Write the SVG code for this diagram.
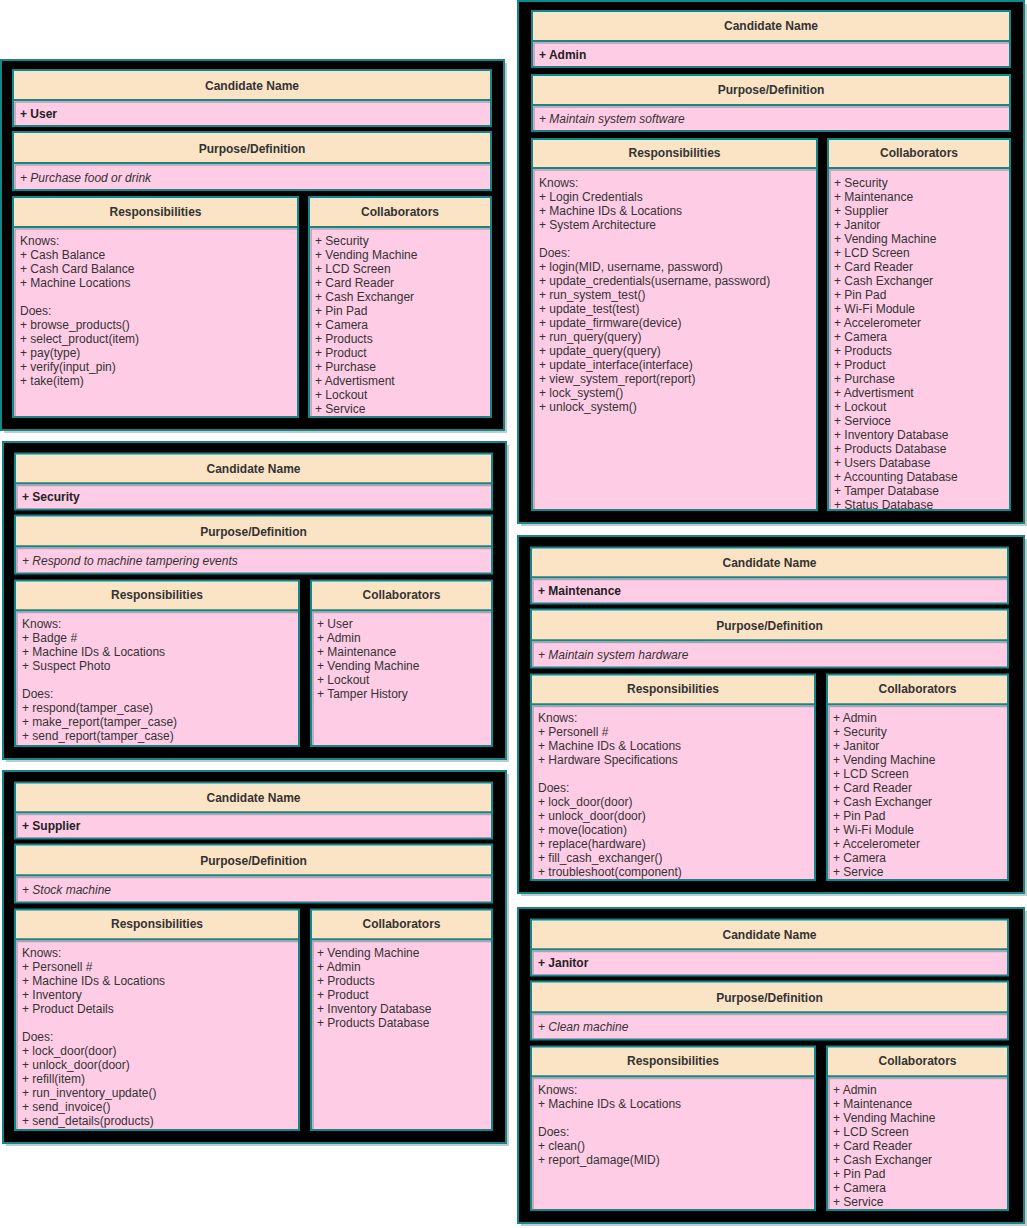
<svg xmlns="http://www.w3.org/2000/svg" width="1027" height="1228" viewBox="0 0 1027 1228">
<style>
.sh{fill:#c8c8c8}
.outer{fill:#000;stroke:#12878a;stroke-width:2}
.hd{fill:#fbe4c6;stroke:#12878a;stroke-width:2}
.bd{fill:#ffcce6;stroke:#12878a;stroke-width:2}
.ml{fill:none;stroke:#bf9bb0;stroke-width:1.5}
text{font-family:"Liberation Sans",Arial,sans-serif;font-size:12px;fill:#333333}
.h{font-weight:bold;text-anchor:middle}
.nm{font-weight:bold;fill:#222222}
.it{font-style:italic}
</style>
<g id="connectors"/>

<g id="card-user" transform="translate(13,60)">
<rect class="sh" x="-9" y="3" width="503" height="370"/>
<rect class="outer" x="-12" y="0" width="503" height="370"/>
<rect class="hd" x="0" y="10" width="478" height="30"/>
<rect class="bd" x="0" y="40" width="478" height="26"/><path class="ml" d="M2,65V42H477"/>
<rect class="hd" x="0" y="72" width="478" height="31"/>
<rect class="bd" x="0" y="103" width="478" height="27"/><path class="ml" d="M2,129V105H477"/>
<rect class="hd" x="0" y="137" width="285" height="30"/>
<rect class="bd" x="0" y="167" width="285" height="190"/><path class="ml" d="M2,356V169H284"/>
<rect class="hd" x="296" y="137" width="182" height="30"/>
<rect class="bd" x="296" y="167" width="182" height="190"/><path class="ml" d="M298,356V169H477"/>
<text class="h" x="239" y="30">Candidate Name</text>
<text class="nm" x="7" y="58">+ User</text>
<text class="h" x="239" y="93">Purpose/Definition</text>
<text class="it" x="7" y="122">+ Purchase food or drink</text>
<text class="h" x="142.5" y="156">Responsibilities</text>
<text class="h" x="387" y="156">Collaborators</text>
<text x="7" y="185">Knows:<tspan x="7" dy="14">+ Cash Balance</tspan><tspan x="7" dy="14">+ Cash Card Balance</tspan><tspan x="7" dy="14">+ Machine Locations</tspan><tspan x="7" dy="28">Does:</tspan><tspan x="7" dy="14">+ browse_products()</tspan><tspan x="7" dy="14">+ select_product(item)</tspan><tspan x="7" dy="14">+ pay(type)</tspan><tspan x="7" dy="14">+ verify(input_pin)</tspan><tspan x="7" dy="14">+ take(item)</tspan></text>
<text x="302" y="185">+ Security<tspan x="302" dy="14">+ Vending Machine</tspan><tspan x="302" dy="14">+ LCD Screen</tspan><tspan x="302" dy="14">+ Card Reader</tspan><tspan x="302" dy="14">+ Cash Exchanger</tspan><tspan x="302" dy="14">+ Pin Pad</tspan><tspan x="302" dy="14">+ Camera</tspan><tspan x="302" dy="14">+ Products</tspan><tspan x="302" dy="14">+ Product</tspan><tspan x="302" dy="14">+ Purchase</tspan><tspan x="302" dy="14">+ Advertisment</tspan><tspan x="302" dy="14">+ Lockout</tspan><tspan x="302" dy="14">+ Service</tspan></text>
</g>

<g id="card-security" transform="translate(15,443.5)">
<rect class="sh" x="-9" y="1.5" width="503" height="317"/>
<rect class="outer" x="-12" y="-1.5" width="503" height="317"/>
<rect class="hd" x="0" y="10" width="477" height="30"/>
<rect class="bd" x="0" y="40" width="477" height="26"/><path class="ml" d="M2,65V42H476"/>
<rect class="hd" x="0" y="72" width="477" height="31"/>
<rect class="bd" x="0" y="103" width="477" height="27"/><path class="ml" d="M2,129V105H476"/>
<rect class="hd" x="0" y="137" width="284" height="30"/>
<rect class="bd" x="0" y="167" width="284" height="135.5"/><path class="ml" d="M2,301.5V169H283"/>
<rect class="hd" x="296" y="137" width="181" height="30"/>
<rect class="bd" x="296" y="167" width="181" height="135.5"/><path class="ml" d="M298,301.5V169H476"/>
<text class="h" x="238.5" y="29">Candidate Name</text>
<text class="nm" x="7" y="57">+ Security</text>
<text class="h" x="238.5" y="92">Purpose/Definition</text>
<text class="it" x="7" y="121">+ Respond to machine tampering events</text>
<text class="h" x="142" y="155">Responsibilities</text>
<text class="h" x="386.5" y="155">Collaborators</text>
<text x="7" y="184">Knows:<tspan x="7" dy="14">+ Badge #</tspan><tspan x="7" dy="14">+ Machine IDs &amp; Locations</tspan><tspan x="7" dy="14">+ Suspect Photo</tspan><tspan x="7" dy="28">Does:</tspan><tspan x="7" dy="14">+ respond(tamper_case)</tspan><tspan x="7" dy="14">+ make_report(tamper_case)</tspan><tspan x="7" dy="14">+ send_report(tamper_case)</tspan></text>
<text x="302" y="184">+ User<tspan x="302" dy="14">+ Admin</tspan><tspan x="302" dy="14">+ Maintenance</tspan><tspan x="302" dy="14">+ Vending Machine</tspan><tspan x="302" dy="14">+ Lockout</tspan><tspan x="302" dy="14">+ Tamper History</tspan></text>
</g>

<g id="card-supplier" transform="translate(15,772.5)">
<rect class="sh" x="-9" y="1.5" width="503" height="372"/>
<rect class="outer" x="-12" y="-1.5" width="503" height="372"/>
<rect class="hd" x="0" y="10" width="477" height="30"/>
<rect class="bd" x="0" y="40" width="477" height="26"/><path class="ml" d="M2,65V42H476"/>
<rect class="hd" x="0" y="72" width="477" height="31"/>
<rect class="bd" x="0" y="103" width="477" height="27"/><path class="ml" d="M2,129V105H476"/>
<rect class="hd" x="0" y="137" width="284" height="30"/>
<rect class="bd" x="0" y="167" width="284" height="190.5"/><path class="ml" d="M2,356.5V169H283"/>
<rect class="hd" x="296" y="137" width="181" height="30"/>
<rect class="bd" x="296" y="167" width="181" height="190.5"/><path class="ml" d="M298,356.5V169H476"/>
<text class="h" x="238.5" y="29">Candidate Name</text>
<text class="nm" x="7" y="57">+ Supplier</text>
<text class="h" x="238.5" y="92">Purpose/Definition</text>
<text class="it" x="7" y="121">+ Stock machine</text>
<text class="h" x="142" y="155">Responsibilities</text>
<text class="h" x="386.5" y="155">Collaborators</text>
<text x="7" y="184">Knows:<tspan x="7" dy="14">+ Personell #</tspan><tspan x="7" dy="14">+ Machine IDs &amp; Locations</tspan><tspan x="7" dy="14">+ Inventory</tspan><tspan x="7" dy="14">+ Product Details</tspan><tspan x="7" dy="28">Does:</tspan><tspan x="7" dy="14">+ lock_door(door)</tspan><tspan x="7" dy="14">+ unlock_door(door)</tspan><tspan x="7" dy="14">+ refill(item)</tspan><tspan x="7" dy="14">+ run_inventory_update()</tspan><tspan x="7" dy="14">+ send_invoice()</tspan><tspan x="7" dy="14">+ send_details(products)</tspan></text>
<text x="302" y="184">+ Vending Machine<tspan x="302" dy="14">+ Admin</tspan><tspan x="302" dy="14">+ Products</tspan><tspan x="302" dy="14">+ Product</tspan><tspan x="302" dy="14">+ Inventory Database</tspan><tspan x="302" dy="14">+ Products Database</tspan></text>
</g>

<g id="card-admin" transform="translate(532,1)">
<rect class="sh" x="-11" y="3" width="506" height="522"/>
<rect class="outer" x="-14" y="0" width="506" height="522"/>
<rect class="hd" x="0" y="10" width="478" height="30"/>
<rect class="bd" x="0" y="40" width="478" height="26"/><path class="ml" d="M2,65V42H477"/>
<rect class="hd" x="0" y="74" width="478" height="30"/>
<rect class="bd" x="0" y="104" width="478" height="26"/><path class="ml" d="M2,129V106H477"/>
<rect class="hd" x="0" y="138" width="285" height="29"/>
<rect class="bd" x="0" y="167" width="285" height="342"/><path class="ml" d="M2,508V169H284"/>
<rect class="hd" x="296" y="138" width="182" height="29"/>
<rect class="bd" x="296" y="167" width="182" height="342"/><path class="ml" d="M298,508V169H477"/>
<text class="h" x="239" y="29">Candidate Name</text>
<text class="nm" x="7" y="58">+ Admin</text>
<text class="h" x="239" y="93">Purpose/Definition</text>
<text class="it" x="7" y="122">+ Maintain system software</text>
<text class="h" x="142.5" y="156">Responsibilities</text>
<text class="h" x="387" y="156">Collaborators</text>
<text x="7" y="186">Knows:<tspan x="7" dy="14">+ Login Credentials</tspan><tspan x="7" dy="14">+ Machine IDs &amp; Locations</tspan><tspan x="7" dy="14">+ System Architecture</tspan><tspan x="7" dy="28">Does:</tspan><tspan x="7" dy="14">+ login(MID, username, password)</tspan><tspan x="7" dy="14">+ update_credentials(username, password)</tspan><tspan x="7" dy="14">+ run_system_test()</tspan><tspan x="7" dy="14">+ update_test(test)</tspan><tspan x="7" dy="14">+ update_firmware(device)</tspan><tspan x="7" dy="14">+ run_query(query)</tspan><tspan x="7" dy="14">+ update_query(query)</tspan><tspan x="7" dy="14">+ update_interface(interface)</tspan><tspan x="7" dy="14">+ view_system_report(report)</tspan><tspan x="7" dy="14">+ lock_system()</tspan><tspan x="7" dy="14">+ unlock_system()</tspan></text>
<text x="302" y="186">+ Security<tspan x="302" dy="14">+ Maintenance</tspan><tspan x="302" dy="14">+ Supplier</tspan><tspan x="302" dy="14">+ Janitor</tspan><tspan x="302" dy="14">+ Vending Machine</tspan><tspan x="302" dy="14">+ LCD Screen</tspan><tspan x="302" dy="14">+ Card Reader</tspan><tspan x="302" dy="14">+ Cash Exchanger</tspan><tspan x="302" dy="14">+ Pin Pad</tspan><tspan x="302" dy="14">+ Wi-Fi Module</tspan><tspan x="302" dy="14">+ Accelerometer</tspan><tspan x="302" dy="14">+ Camera</tspan><tspan x="302" dy="14">+ Products</tspan><tspan x="302" dy="14">+ Product</tspan><tspan x="302" dy="14">+ Purchase</tspan><tspan x="302" dy="14">+ Advertisment</tspan><tspan x="302" dy="14">+ Lockout</tspan><tspan x="302" dy="14">+ Servioce</tspan><tspan x="302" dy="14">+ Inventory Database</tspan><tspan x="302" dy="14">+ Products Database</tspan><tspan x="302" dy="14">+ Users Database</tspan><tspan x="302" dy="14">+ Accounting Database</tspan><tspan x="302" dy="14">+ Tamper Database</tspan><tspan x="302" dy="14">+ Status Database</tspan></text>
</g>

<g id="card-maintenance" transform="translate(531,537.5)">
<rect class="sh" x="-10" y="1.5" width="506" height="357"/>
<rect class="outer" x="-13" y="-1.5" width="506" height="357"/>
<rect class="hd" x="0" y="10" width="477" height="30"/>
<rect class="bd" x="0" y="40" width="477" height="26"/><path class="ml" d="M2,65V42H476"/>
<rect class="hd" x="0" y="72" width="477" height="31"/>
<rect class="bd" x="0" y="103" width="477" height="27"/><path class="ml" d="M2,129V105H476"/>
<rect class="hd" x="0" y="137" width="284" height="30"/>
<rect class="bd" x="0" y="167" width="284" height="175.5"/><path class="ml" d="M2,341.5V169H283"/>
<rect class="hd" x="296" y="137" width="181" height="30"/>
<rect class="bd" x="296" y="167" width="181" height="175.5"/><path class="ml" d="M298,341.5V169H476"/>
<text class="h" x="238.5" y="29">Candidate Name</text>
<text class="nm" x="7" y="57">+ Maintenance</text>
<text class="h" x="238.5" y="92">Purpose/Definition</text>
<text class="it" x="7" y="121">+ Maintain system hardware</text>
<text class="h" x="142" y="155">Responsibilities</text>
<text class="h" x="386.5" y="155">Collaborators</text>
<text x="7" y="184">Knows:<tspan x="7" dy="14">+ Personell #</tspan><tspan x="7" dy="14">+ Machine IDs &amp; Locations</tspan><tspan x="7" dy="14">+ Hardware Specifications</tspan><tspan x="7" dy="28">Does:</tspan><tspan x="7" dy="14">+ lock_door(door)</tspan><tspan x="7" dy="14">+ unlock_door(door)</tspan><tspan x="7" dy="14">+ move(location)</tspan><tspan x="7" dy="14">+ replace(hardware)</tspan><tspan x="7" dy="14">+ fill_cash_exchanger()</tspan><tspan x="7" dy="14">+ troubleshoot(component)</tspan></text>
<text x="302" y="184">+ Admin<tspan x="302" dy="14">+ Security</tspan><tspan x="302" dy="14">+ Janitor</tspan><tspan x="302" dy="14">+ Vending Machine</tspan><tspan x="302" dy="14">+ LCD Screen</tspan><tspan x="302" dy="14">+ Card Reader</tspan><tspan x="302" dy="14">+ Cash Exchanger</tspan><tspan x="302" dy="14">+ Pin Pad</tspan><tspan x="302" dy="14">+ Wi-Fi Module</tspan><tspan x="302" dy="14">+ Accelerometer</tspan><tspan x="302" dy="14">+ Camera</tspan><tspan x="302" dy="14">+ Service</tspan></text>
</g>

<g id="card-janitor" transform="translate(531,909.5)">
<rect class="sh" x="-10" y="1.5" width="506" height="315"/>
<rect class="outer" x="-13" y="-1.5" width="506" height="315"/>
<rect class="hd" x="0" y="10" width="477" height="30"/>
<rect class="bd" x="0" y="40" width="477" height="26"/><path class="ml" d="M2,65V42H476"/>
<rect class="hd" x="0" y="72" width="477" height="31"/>
<rect class="bd" x="0" y="103" width="477" height="27"/><path class="ml" d="M2,129V105H476"/>
<rect class="hd" x="0" y="137" width="284" height="30"/>
<rect class="bd" x="0" y="167" width="284" height="133.5"/><path class="ml" d="M2,299.5V169H283"/>
<rect class="hd" x="296" y="137" width="181" height="30"/>
<rect class="bd" x="296" y="167" width="181" height="133.5"/><path class="ml" d="M298,299.5V169H476"/>
<text class="h" x="238.5" y="29">Candidate Name</text>
<text class="nm" x="7" y="57">+ Janitor</text>
<text class="h" x="238.5" y="92">Purpose/Definition</text>
<text class="it" x="7" y="121">+ Clean machine</text>
<text class="h" x="142" y="155">Responsibilities</text>
<text class="h" x="386.5" y="155">Collaborators</text>
<text x="7" y="184">Knows:<tspan x="7" dy="14">+ Machine IDs &amp; Locations</tspan><tspan x="7" dy="28">Does:</tspan><tspan x="7" dy="14">+ clean()</tspan><tspan x="7" dy="14">+ report_damage(MID)</tspan></text>
<text x="302" y="184">+ Admin<tspan x="302" dy="14">+ Maintenance</tspan><tspan x="302" dy="14">+ Vending Machine</tspan><tspan x="302" dy="14">+ LCD Screen</tspan><tspan x="302" dy="14">+ Card Reader</tspan><tspan x="302" dy="14">+ Cash Exchanger</tspan><tspan x="302" dy="14">+ Pin Pad</tspan><tspan x="302" dy="14">+ Camera</tspan><tspan x="302" dy="14">+ Service</tspan></text>
</g>
</svg>
